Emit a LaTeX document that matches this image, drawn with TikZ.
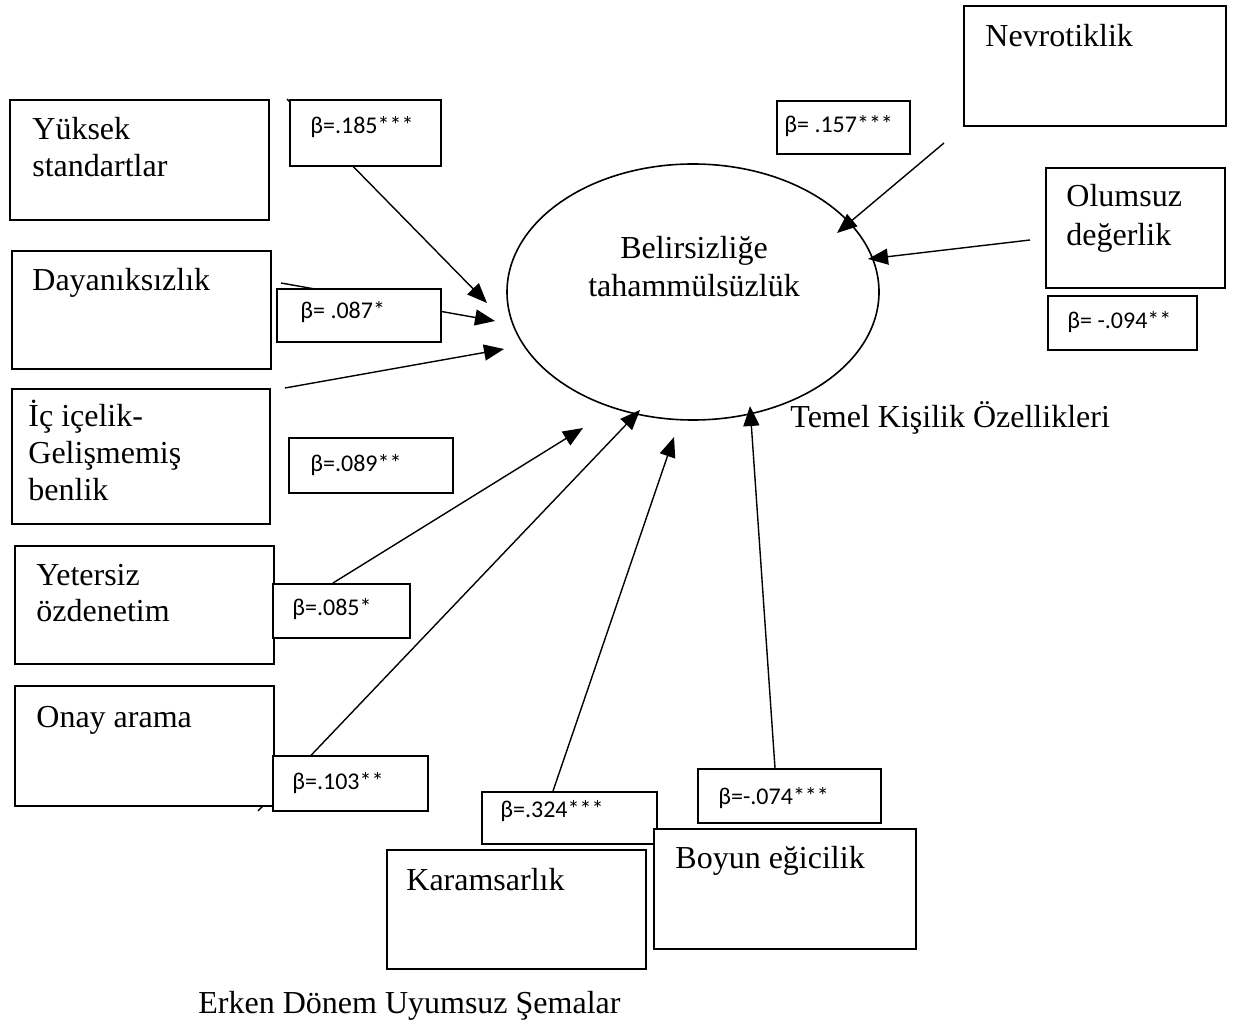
\documentclass[tikz,border=0pt]{standalone}
\usepackage{fontspec}
\setmainfont{Liberation Serif}
\newfontfamily\calibrifont{Carlito}
\usetikzlibrary{shapes.geometric,arrows.meta}
\tikzset{
  bx/.style={draw, line width=0.9pt, fill=white, anchor=north west, inner sep=0pt},
  lbl/.style={anchor=base west, inner sep=0pt, font=\fontsize{16}{19}\selectfont},
  beta/.style={anchor=base west, inner sep=0pt, font=\calibrifont\fontsize{12}{14}\selectfont},
  arr/.style={line width=0.7pt, -{Triangle[length=10pt,width=8pt]}},
  ln/.style={line width=0.7pt}
}
\begin{document}
\begin{tikzpicture}[x=0.5pt,y=-0.5pt]
\useasboundingbox (0,0) rectangle (1236,1021);
% ellipse
\node[draw, ellipse, line width=0.8pt, minimum width=186pt, minimum height=128pt, inner sep=0pt] (E) at (693,292) {};
\node[anchor=base, inner sep=0pt, font=\fontsize{16}{19}\selectfont] (E1) at (694,259) {Belirsizliğe};
\node[anchor=base, inner sep=0pt, font=\fontsize{16}{19}\selectfont] (E2) at (694,297) {tahammülsüzlük};

% start / end coordinates
\coordinate (s1) at (287,99);   \coordinate (e1) at (487,303);
\coordinate (s2) at (281,283);  \coordinate (e2) at (495,321);
\coordinate (s3) at (285,388);  \coordinate (e3) at (504,349);
\coordinate (s4) at (333,583);  \coordinate (e4) at (583,428);
\coordinate (s5) at (258,811);  \coordinate (e5) at (640,410);
\coordinate (s6) at (553,791);  \coordinate (e6) at (674,437);
\coordinate (s7) at (775,768);  \coordinate (e7) at (750,406);
\coordinate (s8) at (944,143);  \coordinate (e8) at (837,233);
\coordinate (s9) at (1030,240); \coordinate (e9) at (868,259);

\draw[arr] (s1) -- (e1);
\draw[arr] (s2) -- (e2);
\draw[arr] (s3) -- (e3);
\draw[arr] (s4) -- (e4);
\draw[arr] (s5) -- (e5);
\draw[arr] (s6) -- (e6);
\draw[arr] (s7) -- (e7);
\draw[arr] (s8) -- (e8);
\draw[arr] (s9) -- (e9);

% left boxes
\node[bx, minimum width=129.5pt, minimum height=60pt] (Y) at (9,99) {};
\node[lbl] (Yt1) at (32,140) {Yüksek};
\node[lbl] (Yt2) at (32,177) {standartlar};
\node[bx, minimum width=75.5pt, minimum height=33pt] (B1) at (289,99) {};
\node[beta] (B1t) at (310,134) {β=.185***};

\node[bx, minimum width=129.5pt, minimum height=59pt] (D) at (11,250) {};
\node[lbl] (Dt) at (32,291) {Dayanıksızlık};
\node[bx, minimum width=82pt, minimum height=26.5pt] (B2) at (276,288) {};
\node[beta] (B2t) at (300,319) {β= .087*};

\node[bx, minimum width=129pt, minimum height=67.5pt] (I) at (11,388) {};
\node[lbl] (It1) at (28,426) {İç içelik-};
\node[lbl] (It2) at (28,463) {Gelişmemiş};
\node[lbl] (It3) at (28,500) {benlik};
\node[bx, minimum width=82pt, minimum height=27.5pt] (B3) at (288,437) {};
\node[beta] (B3t) at (310,471) {β=.089**};

\node[bx, minimum width=129.5pt, minimum height=59pt] (YS) at (14,545) {};
\node[lbl] (YSt1) at (36,585) {Yetersiz};
\node[lbl] (YSt2) at (36,621) {özdenetim};
\node[bx, minimum width=68.5pt, minimum height=27pt] (B4) at (272,583) {};
\node[beta] (B4t) at (292,615) {β=.085*};

\node[bx, minimum width=129.5pt, minimum height=60pt] (O) at (14,685) {};
\node[lbl] (Ot) at (36,727) {Onay arama};
\node[bx, minimum width=77.5pt, minimum height=27.5pt] (B5) at (272,755) {};
\node[beta] (B5t) at (292,789) {β=.103**};

% bottom boxes
\node[bx, minimum width=129.5pt, minimum height=59.5pt] (K) at (386,849) {};
\node[lbl] (Kt) at (406,890) {Karamsarlık};
\node[bx, minimum width=87.5pt, minimum height=26pt] (B6) at (481,791) {};
\node[beta] (B6t) at (500,817) {β=.324***};

\node[bx, minimum width=91.5pt, minimum height=27pt] (B7) at (697,768) {};
\node[beta] (B7t) at (718,804) {β=-.074***};
\node[bx, minimum width=131pt, minimum height=60pt] (BO) at (653,828) {};
\node[lbl] (BOt) at (675,868) {Boyun eğicilik};

% right boxes
\node[bx, minimum width=131pt, minimum height=60pt] (N) at (963,5) {};
\node[lbl] (Nt) at (985,47) {Nevrotiklik};
\node[bx, minimum width=66.5pt, minimum height=26.5pt] (B8) at (776,100) {};
\node[beta] (B8t) at (784,133) {β= .157***};

\node[bx, minimum width=89.5pt, minimum height=60pt] (OL) at (1045,167) {};
\node[lbl] (OLt1) at (1066,207) {Olumsuz};
\node[lbl] (OLt2) at (1066,246) {değerlik};
\node[bx, minimum width=74.5pt, minimum height=27pt] (B9) at (1047,295) {};
\node[beta] (B9t) at (1067,329) {β= -.094**};

% group captions
\node[lbl] (T) at (790,428) {Temel Kişilik Özellikleri};
\node[lbl] (S) at (198,1013) {Erken Dönem Uyumsuz Şemalar};
\end{tikzpicture}
\end{document}
